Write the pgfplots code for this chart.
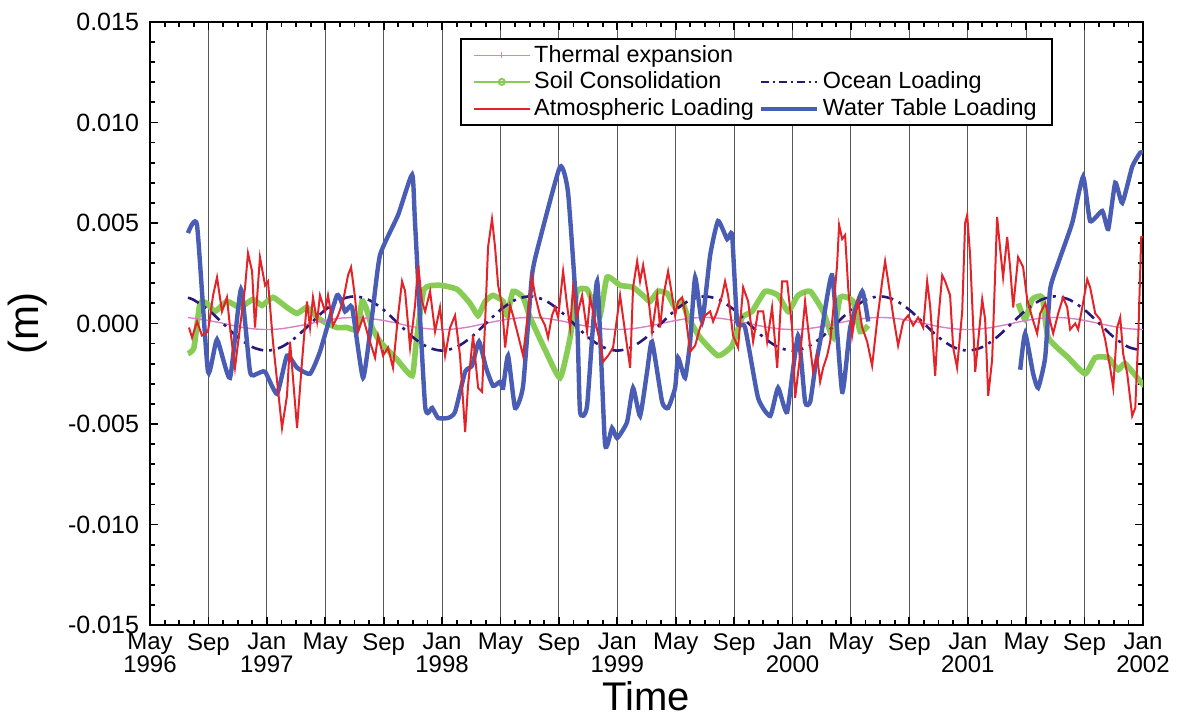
\documentclass[border=0pt]{standalone}
\usepackage{pgfplots}
\pgfplotsset{compat=1.18}
\usepackage{fontspec}
\setmainfont{Liberation Sans}
\usetikzlibrary{calc}
\definecolor{waterblue}{RGB}{74,93,181}
\definecolor{atmred}{RGB}{228,35,40}
\definecolor{soilgreen}{RGB}{135,205,85}
\definecolor{oceannavy}{RGB}{40,25,120}
\definecolor{thermpink}{RGB}{215,130,200}

\pgfplotstableread{
m v
2.60 0.0045
3.22 0.0049
3.97 -0.0024
4.59 -0.0008
5.48 -0.0027
6.23 0.0017
6.85 -0.0024
7.33 -0.0025
7.88 -0.0024
8.70 -0.0035
9.38 -0.0016
10.07 -0.0022
10.96 -0.0025
11.64 -0.0014
12.81 0.0014
13.36 0.0006
13.84 0.0008
14.59 -0.0027
15.21 0.0004
15.75 0.0034
16.99 0.0054
17.95 0.0074
18.15 0.0050
18.84 -0.0041
19.32 -0.0042
19.73 -0.0047
20.41 -0.0047
20.89 -0.0044
21.58 -0.0024
22.05 -0.0021
22.53 -0.0009
23.01 -0.0022
23.49 -0.0031
23.97 -0.0029
24.18 -0.0032
24.52 -0.0016
25.00 -0.0042
25.55 -0.0031
26.16 0.0024
26.71 0.0042
28.08 0.0078
28.63 0.0065
29.25 0.0001
29.45 -0.0044
29.93 -0.0041
30.62 0.0021
31.16 -0.0060
31.64 -0.0052
31.99 -0.0057
32.67 -0.0049
33.08 -0.0032
33.56 -0.0046
34.04 -0.0024
34.38 -0.0009
35.07 -0.0039
35.48 -0.0042
35.96 -0.0032
36.16 -0.0017
36.64 -0.0027
36.99 -0.0009
37.33 0.0023
37.81 0.0001
38.36 0.0034
38.90 0.0051
39.52 0.0042
39.86 0.0044
40.21 0.0001
40.75 -0.0002
41.64 -0.0037
42.47 -0.0046
43.01 -0.0032
43.63 -0.0044
44.38 -0.0006
44.86 -0.0039
45.21 -0.0039
45.55 -0.0022
45.89 -0.0009
46.71 0.0024
47.40 -0.0034
47.95 -0.0002
48.77 0.0016
49.18 0.0001
}\waterA

\pgfplotstableread{
m v
59.59 -0.0023
59.93 -0.0005
60.48 -0.0025
60.82 -0.0032
61.30 -0.0017
61.64 0.0017
62.19 0.0030
63.15 0.0050
63.90 0.0073
64.38 0.0051
65.21 0.0056
65.62 0.0047
66.10 0.0070
66.58 0.0060
67.26 0.0078
67.81 0.0085
68.00 0.0085
}\waterB

\pgfplotstableread{
m v
2.60 -0.0015
3.01 -0.0012
3.42 0.0010
3.90 0.0010
4.45 0.0006
5.27 0.0011
6.16 0.0008
7.05 0.0012
7.67 0.0009
8.42 0.0013
9.38 0.0008
10.07 0.0005
10.75 0.0008
11.44 0.0003
12.12 0.0000
12.81 -0.0002
13.49 -0.0002
14.18 -0.0003
14.52 0.0011
14.79 0.0008
15.21 -0.0002
15.75 -0.0009
16.92 -0.0018
17.95 -0.0026
18.22 -0.0010
18.77 0.0017
19.86 0.0019
21.03 0.0017
21.92 0.0010
22.47 0.0004
22.95 0.0011
23.49 0.0014
24.18 0.0011
24.45 0.0004
24.86 0.0016
25.55 0.0013
26.03 0.0003
27.05 -0.0013
28.08 -0.0027
28.77 -0.0007
29.25 0.0016
29.93 0.0017
30.34 0.0010
30.82 0.0004
31.30 0.0023
32.19 0.0019
33.08 0.0018
33.90 0.0013
34.25 0.0011
34.79 0.0016
35.41 0.0015
35.96 0.0008
36.44 0.0011
36.85 0.0003
37.67 -0.0007
38.90 -0.0016
39.86 -0.0011
40.55 0.0003
41.23 0.0006
42.12 0.0016
43.01 0.0014
43.70 0.0006
44.38 0.0014
45.21 0.0016
46.10 0.0006
46.78 -0.0007
47.26 0.0013
48.15 0.0011
48.63 -0.0004
49.18 -0.0001
}\soilA

\pgfplotstableread{
m v
59.45 0.0010
59.93 0.0002
60.41 0.0012
61.10 0.0013
61.51 -0.0007
62.88 -0.0017
64.04 -0.0025
64.73 -0.0017
65.62 -0.0017
66.30 -0.0023
66.78 -0.0020
67.95 -0.0030
68.00 -0.0030
}\soilB

\pgfplotstableread{
m v
2.6 0.00128
3 0.00117
4 0.00068
5 0
6 -0.00068
7 -0.00117
8 -0.00135
9 -0.00117
10 -0.00068
11 0
12 0.00068
13 0.00117
14 0.00135
15 0.00117
16 0.00068
17 0
18 -0.00068
19 -0.00117
20 -0.00135
21 -0.00117
22 -0.00068
23 0
24 0.00068
25 0.00117
26 0.00135
27 0.00117
28 0.00068
29 0
30 -0.00068
31 -0.00117
32 -0.00135
33 -0.00117
34 -0.00068
35 0
36 0.00068
37 0.00117
38 0.00135
39 0.00117
40 0.00068
41 0
42 -0.00068
43 -0.00117
44 -0.00135
45 -0.00117
46 -0.00068
47 0
48 0.00068
49 0.00117
50 0.00135
51 0.00117
52 0.00068
53 0
54 -0.00068
55 -0.00117
56 -0.00135
57 -0.00117
58 -0.00068
59 0
60 0.00068
61 0.00117
62 0.00135
63 0.00117
64 0.00068
65 0
66 -0.00068
67 -0.00117
68 -0.00135
}\ocean

\pgfplotstableread{
m v
2.6 0.00029
3 0.00026
4 0.00015
5 0.00001
6 -0.00015
7 -0.00026
8 -0.00030
9 -0.00026
10 -0.00014
11 0.00000
12 0.00015
13 0.00026
14 0.00030
15 0.00025
16 0.00015
17 0.00000
18 -0.00016
19 -0.00026
20 -0.00030
21 -0.00026
22 -0.00015
23 0.00001
24 0.00015
25 0.00026
26 0.00030
27 0.00026
28 0.00015
29 0.00000
30 -0.00015
31 -0.00026
32 -0.00030
33 -0.00026
34 -0.00015
35 0.00000
36 0.00015
37 0.00026
38 0.00030
39 0.00026
40 0.00015
41 0.00000
42 -0.00015
43 -0.00026
44 -0.00030
45 -0.00026
46 -0.00015
47 0.00000
48 0.00015
49 0.00026
50 0.00030
51 0.00026
52 0.00015
53 0.00000
54 -0.00015
55 -0.00026
56 -0.00030
57 -0.00026
58 -0.00015
59 0.00000
60 0.00015
61 0.00026
62 0.00030
63 0.00026
64 0.00015
65 0.00000
66 -0.00015
67 -0.00026
68 -0.00030
}\thermal

\pgfplotstableread{
m v
2.67 -0.0002
2.88 -0.0007
3.22 0.0001
3.56 -0.0006
3.97 -0.0004
4.32 0.0014
4.59 0.0023
4.93 0.0006
5.27 0.0013
5.48 -0.0002
5.82 -0.0022
6.16 -0.0002
6.51 0.0018
6.71 0.0035
6.99 0.0026
7.19 -0.0002
7.53 0.0033
7.88 0.0019
8.08 0.0021
8.42 -0.0009
9.04 -0.0052
9.38 -0.0036
9.59 -0.0009
10.07 -0.0052
10.41 -0.0019
10.75 0.0011
10.96 -0.0002
11.16 0.0013
11.44 0.0001
11.64 0.0014
11.99 0.0006
12.19 0.0014
12.53 -0.0001
12.88 0.0004
13.22 0.0011
13.56 0.0024
13.77 0.0028
14.04 0.0013
14.25 -0.0004
14.59 0.0003
14.93 -0.0006
15.41 -0.0017
15.62 -0.0006
15.96 -0.0016
16.30 -0.0012
16.64 -0.0022
16.99 0.0004
17.26 0.0021
17.47 0.0016
17.81 -0.0012
18.15 0.0009
18.36 0.0029
18.63 0.0011
18.84 0.0006
19.18 0.0016
19.52 -0.0004
19.86 0.0008
20.21 -0.0016
20.55 -0.0002
20.89 0.0004
21.23 -0.0016
21.58 -0.0054
21.78 -0.0031
22.12 -0.0006
22.47 -0.0032
22.74 -0.0034
22.95 0.0001
23.15 0.0038
23.42 0.0052
23.63 0.0038
23.84 0.0019
24.11 0.0009
24.32 -0.0012
24.66 0.0009
24.86 0.0004
25.21 -0.0006
25.55 -0.0016
25.82 0.0001
26.16 0.0023
26.37 0.0014
26.71 0.0004
27.05 -0.0001
27.26 -0.0007
27.53 0.0004
27.74 0.0008
27.95 0.0003
28.29 0.0026
28.56 0.0009
28.77 -0.0002
28.97 0.0018
29.25 0.0004
29.59 0.0014
29.93 -0.0004
30.14 0.0013
30.48 0.0001
30.82 -0.0009
31.03 -0.0019
31.37 -0.0016
31.71 -0.0012
32.19 0.0014
32.53 -0.0004
32.88 -0.0022
33.08 0.0018
33.36 0.0031
33.56 0.0021
33.77 0.0029
34.11 0.0014
34.38 -0.0004
34.73 0.0014
34.93 -0.0002
35.14 0.0013
35.48 0.0026
35.75 0.0014
35.96 0.0004
36.16 0.0011
36.44 0.0013
36.64 0.0006
36.99 -0.0014
37.33 -0.0011
37.67 -0.0002
38.01 0.0004
38.36 0.0006
38.56 0.0001
38.84 0.0006
39.18 0.0014
39.38 0.0021
39.59 0.0014
39.93 -0.0006
40.27 -0.0012
40.62 0.0018
40.96 0.0011
41.30 -0.0009
41.64 0.0006
41.99 0.0006
42.26 -0.0009
42.60 0.0008
42.95 -0.0022
43.29 0.0021
43.63 0.0021
43.97 -0.0002
44.18 -0.0037
44.52 -0.0016
44.86 0.0011
45.21 -0.0012
45.41 -0.0024
45.68 -0.0016
45.89 -0.0029
46.10 -0.0022
46.37 -0.0016
46.58 -0.0009
46.78 0.0006
47.05 0.0029
47.19 0.0049
47.40 0.0042
47.60 0.0044
47.81 0.0018
48.08 -0.0006
48.29 0.0004
48.49 0.0011
48.77 -0.0002
49.11 -0.0009
49.45 -0.0021
49.79 0.0001
50.14 0.0021
50.34 0.0031
50.55 0.0021
50.89 0.0004
51.23 -0.0011
51.58 0.0001
51.92 0.0004
52.26 -0.0001
52.60 0.0003
52.95 -0.0002
53.22 0.0021
53.42 0.0009
53.77 -0.0026
53.97 0.0001
54.25 0.0024
54.45 0.0021
54.79 0.0014
55.00 -0.0012
55.27 -0.0022
55.62 0.0006
55.82 0.0050
55.96 0.0054
56.16 0.0034
56.51 -0.0024
56.99 0.0012
57.19 0.0002
57.40 -0.0036
57.67 -0.0018
58.01 0.0053
58.22 0.0037
58.42 0.0023
58.70 0.0043
58.90 0.0028
59.11 0.0008
59.45 0.0033
59.79 0.0028
60.07 0.0012
60.41 0.0003
60.75 -0.0005
60.96 0.0005
61.30 0.0010
61.51 0.0005
61.85 -0.0005
62.19 0.0005
62.53 0.0013
62.81 0.0008
63.01 -0.0003
63.36 0.0000
63.56 -0.0003
63.84 0.0008
64.18 0.0022
64.38 0.0018
64.73 0.0005
65.07 0.0002
65.41 -0.0008
65.75 -0.0022
65.96 -0.0032
66.23 -0.0002
66.44 0.0003
66.64 -0.0015
66.92 -0.0025
67.26 -0.0046
67.47 -0.0042
67.67 -0.0008
67.88 0.0043
68.00 0.0043
}\atmos

\begin{document}
\begin{tikzpicture}
\begin{axis}[
  scale only axis,
  width=496.5pt, height=301.5pt,
  xmin=0, xmax=68, ymin=-0.015, ymax=0.015,
  xtick={0,4,...,68},
  xticklabels={{May\\1996},Sep,{Jan\\1997},May,Sep,{Jan\\1998},May,Sep,{Jan\\1999},May,Sep,{Jan\\2000},May,Sep,{Jan\\2001},May,Sep,{Jan\\2002}},
  xticklabel style={align=center, font=\fontsize{12}{11.5}\selectfont, inner sep=2pt, yshift=-2pt},
  minor x tick num=3,
  ytick={-0.015,-0.01,-0.005,0,0.005,0.01,0.015},
  yticklabels={-0.015,-0.010,-0.005,0.000,0.005,0.010,0.015},
  yticklabel style={font=\fontsize{12.5}{15}\selectfont, xshift=-2pt},
  minor y tick num=4,
  scaled y ticks=false,
  tick align=inside,
  tick pos=both,
  major tick length=4pt, minor tick length=2.5pt,
  every tick/.style={black, line width=0.9pt},
  axis line style={line width=1.3pt},
  xmajorgrids,
  major grid style={black!65, line width=0.5pt},
  xlabel={Time}, ylabel={(m)},
  xlabel style={font=\fontsize{20}{24}\selectfont, at={(axis description cs:0.5,-0.093)}, anchor=north, inner sep=0pt},
  ylabel style={font=\fontsize{21}{24}\selectfont, at={(axis description cs:-0.1035,0.5)}, anchor=south, inner sep=0pt},
  legend columns=2,
  legend cell align=left,
  legend image code/.code={\draw[mark repeat=2,mark phase=2] plot coordinates {(0pt,0pt) (14pt,0pt) (28pt,0pt)};},
  legend style={at={(0.3122,0.9735)}, anchor=north west, draw=black, line width=0.8pt, fill=white,
    font=\fontsize{11.7}{14}\selectfont, inner xsep=6pt, inner ysep=1.5pt,
    nodes={inner sep=1.7pt}, /tikz/every even column/.append style={column sep=1pt}},
]
\coordinate (bl) at (rel axis cs:0,0);
\coordinate (tr) at (rel axis cs:1,1);

\addplot[soilgreen, line width=2.8pt, smooth, tension=0.3, forget plot] table[x=m,y=v] {\soilA};
\addplot[soilgreen, line width=2.8pt, smooth, tension=0.3, forget plot] table[x=m,y=v] {\soilB};
\addplot[thermpink, line width=0.7pt, smooth, forget plot] table[x=m,y=v] {\thermal};
\addplot[oceannavy, line width=1.3pt, smooth, dash pattern=on 6pt off 3pt on 1.5pt off 3pt, forget plot] table[x=m,y=v] {\ocean};
\addplot[waterblue, line width=2.2pt, smooth, tension=0.3, forget plot] table[x=m,y=v] {\waterA};
\addplot[waterblue, line width=2.2pt, smooth, tension=0.3, forget plot] table[x=m,y=v] {\waterB};
\addplot[atmred, line width=1.0pt, forget plot] table[x=m,y=v] {\atmos};

\addlegendimage{thermpink, line width=0.6pt, mark=|, mark size=1.5pt, mark options={thermpink}}
\addlegendentry{Thermal expansion}
\addlegendimage{empty legend}
\addlegendentry{}
\addlegendimage{soilgreen, line width=1pt, mark=o, mark size=1.5pt, mark options={soilgreen, fill=white}}
\addlegendentry{Soil Consolidation}
\addlegendimage{oceannavy, line width=0.9pt, dash pattern=on 4pt off 2pt on 1pt off 2pt}
\addlegendentry{Ocean Loading}
\addlegendimage{atmred, line width=1pt}
\addlegendentry{Atmospheric Loading}
\addlegendimage{waterblue, line width=2pt}
\addlegendentry{Water Table Loading}
\end{axis}
\path ($(bl)+(-75pt,-48pt)$) rectangle ($(tr)+(21pt,11pt)$);
\end{tikzpicture}
\end{document}
